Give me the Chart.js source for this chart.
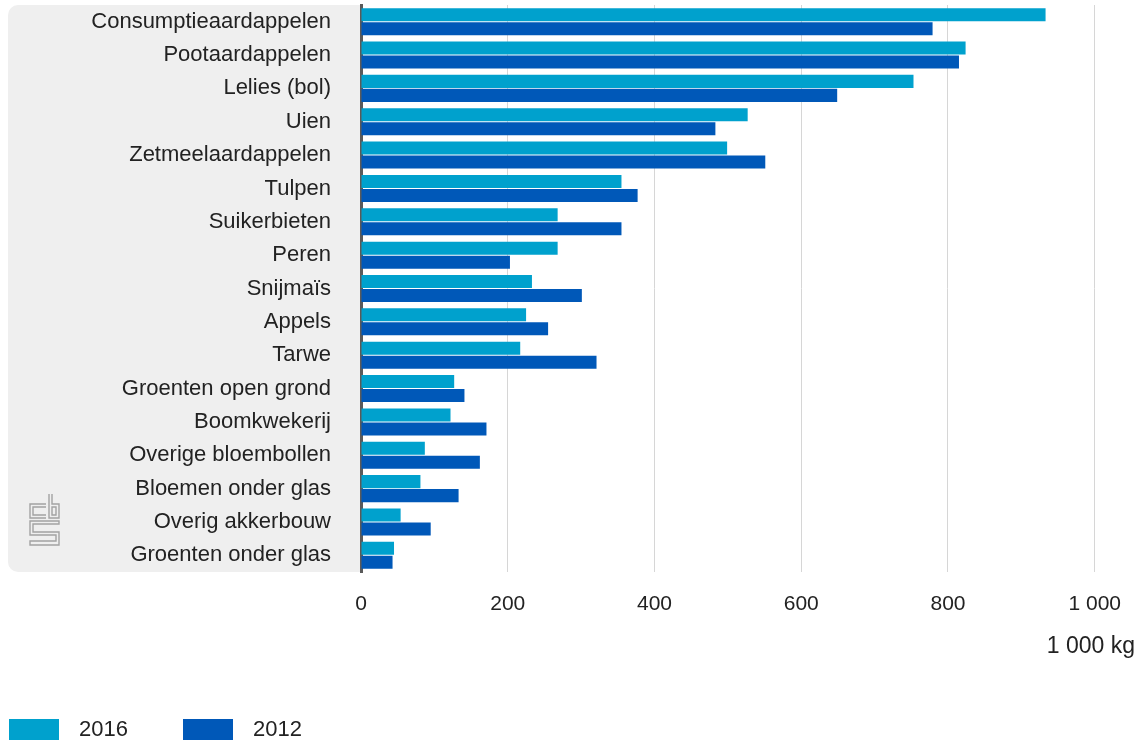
<!DOCTYPE html>
<html>
<head>
<meta charset="utf-8">
<script src="https://cdn.jsdelivr.net/npm/chart.js@4"></script>
<style>
  html, body { margin: 0; padding: 0; background: #fff; }
  #wrap { position: relative; width: 1141px; height: 740px; }
</style>
</head>
<body>
<div id="wrap"><canvas id="myChart" width="1141" height="740"></canvas></div>
<script>
const categories = ['Consumptieaardappelen', 'Pootaardappelen', 'Lelies (bol)', 'Uien', 'Zetmeelaardappelen', 'Tulpen', 'Suikerbieten', 'Peren', 'Snijmaïs', 'Appels', 'Tarwe', 'Groenten open grond', 'Boomkwekerij', 'Overige bloembollen', 'Bloemen onder glas', 'Overig akkerbouw', 'Groenten onder glas'];
const values2016 = [933, 824, 753, 527, 499, 355, 268, 268, 233, 225, 217, 127, 122, 87, 81, 54, 45];
const values2012 = [779, 815, 649, 483, 551, 377, 355, 203, 301, 255, 321, 141, 171, 162, 133, 95, 43];
const seriesLabels = ['2016', '2012'];
const xTicks = [0, 200, 400, 600, 800, 1000];
const unitLabel = '1 000 kg';

const FONT = '"Liberation Sans", Arial, sans-serif';
const colors = ['#00a1cd', '#0058b8'];

// grey panel behind the category labels, cbs logo, unit and legend
const panelPlugin = {
  id: 'panel',
  beforeDraw(chart) {
    const ctx = chart.ctx;
    const a = chart.chartArea;
    ctx.save();
    ctx.fillStyle = '#efefef';
    ctx.beginPath();
    ctx.roundRect(8, a.top, a.left - 8, a.bottom - a.top, [10, 0, 0, 10]);
    ctx.fill();

    // logo
    ctx.strokeStyle = '#a3a3a3';
    ctx.lineWidth = 1.4;
    const x = 30, y = 494;
    ctx.beginPath();
    // c
    ctx.moveTo(x + 16, y + 10); ctx.lineTo(x, y + 10); ctx.lineTo(x, y + 24); ctx.lineTo(x + 16, y + 24);
    ctx.moveTo(x + 16, y + 13); ctx.lineTo(x + 3, y + 13); ctx.lineTo(x + 3, y + 21); ctx.lineTo(x + 16, y + 21);
    // b
    ctx.moveTo(x + 19, y); ctx.lineTo(x + 19, y + 24); ctx.lineTo(x + 29, y + 24); ctx.lineTo(x + 29, y + 10); ctx.lineTo(x + 22, y + 10); ctx.lineTo(x + 22, y);
    ctx.rect(x + 22, y + 13, 4, 8);
    // s
    ctx.moveTo(x + 29, y + 27); ctx.lineTo(x, y + 27); ctx.lineTo(x, y + 41); ctx.lineTo(x + 26, y + 41); ctx.lineTo(x + 26, y + 47); ctx.lineTo(x, y + 47); ctx.lineTo(x, y + 51);
    ctx.lineTo(x + 29, y + 51); ctx.lineTo(x + 29, y + 38); ctx.lineTo(x + 3, y + 38); ctx.lineTo(x + 3, y + 30); ctx.lineTo(x + 29, y + 30); ctx.closePath();
    ctx.stroke();
    ctx.restore();
  },
  afterDraw(chart) {
    const ctx = chart.ctx;
    ctx.save();
    ctx.textBaseline = 'middle';
    // unit below the axis
    ctx.font = '23px ' + FONT;
    ctx.fillStyle = '#222';
    ctx.textAlign = 'right';
    ctx.fillText(unitLabel, 1135, 647);
    // legend bottom left
    ctx.textAlign = 'left';
    ctx.font = '22px ' + FONT;
    const pos = [9, 183];
    chart.data.datasets.forEach((ds, i) => {
      ctx.fillStyle = ds.backgroundColor;
      ctx.fillRect(pos[i], 719, 50, 22);
      ctx.fillStyle = '#222';
      ctx.fillText(ds.label, pos[i] + 70, 730);
    });
    ctx.restore();
  }
};

const ctx = document.getElementById('myChart').getContext('2d');
new Chart(ctx, {
  type: 'bar',
  data: {
    labels: categories,
    datasets: [
      { label: seriesLabels[0], data: values2016, backgroundColor: colors[0] },
      { label: seriesLabels[1], data: values2012, backgroundColor: colors[1] }
    ]
  },
  options: {
    indexAxis: 'y',
    responsive: false,
    animation: false,
    maintainAspectRatio: false,
    categoryPercentage: 0.84,
    barPercentage: 0.93,
    layout: { padding: { top: 5, right: 43, bottom: 81, left: 0 } },
    plugins: {
      legend: { display: false },
      tooltip: { enabled: false }
    },
    scales: {
      x: {
        min: 0,
        max: 1000,
        afterBuildTicks: (scale) => { scale.ticks = xTicks.map(v => ({ value: v })); },
        afterFit: (scale) => { scale.height = 87; },
        grid: { color: '#d6d6d6', lineWidth: 1, drawTicks: false },
        border: { display: false },
        ticks: {
          padding: 20,
          color: '#222',
          font: { family: FONT, size: 21 },
          callback: (v) => String(v).replace(/\B(?=(\d{3})+(?!\d))/g, ' ')
        }
      },
      y: {
        afterFit: (scale) => {
          scale.width = 361;
          scale.paddingTop = 0;
          scale.paddingBottom = 0;
        },
        grid: { display: false, drawTicks: false },
        border: { color: '#5a5a5a', width: 3 },
        ticks: {
          padding: 30,
          color: '#222',
          font: { family: FONT, size: 22 }
        }
      }
    }
  },
  plugins: [panelPlugin]
});
</script>
</body>
</html>
